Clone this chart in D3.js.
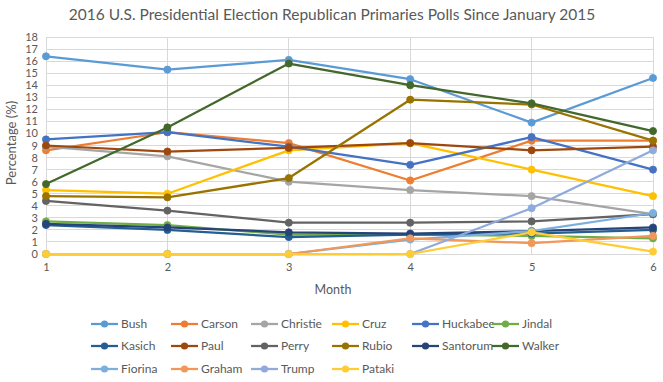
<!DOCTYPE html>
<html><head><meta charset="utf-8">
<script src="https://cdn.jsdelivr.net/npm/d3@7"></script>
<style>body{margin:0;background:#fff;} text{font-family:Lato,"Open Sans",sans-serif;fill:#595959;}</style>
</head><body>
<svg id="chart" width="663" height="382"></svg>
<script>
const months = [1, 2, 3, 4, 5, 6];
const yTicks = d3.range(0, 19);
const candidates = ["Bush","Carson","Christie","Cruz","Huckabee","Jindal","Kasich","Paul","Perry","Rubio","Santorum","Walker","Fiorina","Graham","Trump","Pataki"];
const colors = ["#5B9BD5","#ED7D31","#A5A5A5","#FFC000","#4472C4","#70AD47","#255E91","#9E480E","#636363","#997300","#264478","#43682B","#7CAFDD","#F1975A","#8FAADC","#FFCD33"];
const bush     = [16.4, 15.3, 16.1, 14.5, 10.9, 14.6];
const carson   = [8.6, 10.1, 9.2, 6.1, 9.4, 9.4];
const christie = [8.9, 8.1, 6.0, 5.3, 4.8, 3.3];
const cruz     = [5.3, 5.0, 8.6, 9.2, 7.0, 4.8];
const huckabee = [9.5, 10.1, 8.9, 7.4, 9.7, 7.0];
const jindal   = [2.7, 2.4, 1.6, 1.6, 1.5, 1.3];
const kasich   = [2.4, 2.0, 1.4, 1.6, 1.7, 2.0];
const paul     = [9.0, 8.5, 8.8, 9.2, 8.6, 8.9];
const perry    = [4.4, 3.6, 2.6, 2.6, 2.7, 3.3];
const rubio    = [4.8, 4.7, 6.3, 12.8, 12.4, 9.4];
const santorum = [2.5, 2.2, 1.8, 1.7, 1.9, 2.2];
const walker   = [5.8, 10.5, 15.8, 14.0, 12.5, 10.2];
const fiorina  = [0, 0, 0, 1.2, 1.9, 3.4];
const graham   = [0, 0, 0, 1.3, 0.9, 1.5];
const trump    = [0, 0, 0, 0, 3.8, 8.6];
const pataki   = [0, 0, 0, 0, 1.8, 0.2];
const seriesValues = [bush,carson,christie,cruz,huckabee,jindal,kasich,paul,perry,rubio,santorum,walker,fiorina,graham,trump,pataki];

const svg = d3.select("#chart");
const m = {left:46, right:10, top:37, bottom:128};
const W = 663, H = 382;
const x = d3.scaleLinear().domain([1,6]).range([m.left, W - m.right]);
const y = d3.scaleLinear().domain([0,18]).range([H - m.bottom, m.top]);

svg.append("text").attr("x", 332).attr("y", 20).attr("text-anchor","middle")
  .style("font-size","15.5px").text("2016 U.S. Presidential Election Republican Primaries Polls Since January 2015");

// gridlines
svg.append("g").selectAll("line").data(yTicks).join("line")
  .attr("x1", x(1)).attr("x2", x(6)).attr("y1", d=>y(d)).attr("y2", d=>y(d))
  .attr("stroke","#d9d9d9").attr("stroke-width",1).attr("shape-rendering","crispEdges");
svg.append("g").selectAll("line").data(months).join("line")
  .attr("x1", d=>x(d)).attr("x2", d=>x(d)).attr("y1", y(0)).attr("y2", y(18))
  .attr("stroke","#d9d9d9").attr("stroke-width",1).attr("shape-rendering","crispEdges");

// axes (labels only)
const yAxis = svg.append("g").attr("transform",`translate(${x(1)},0)`)
  .call(d3.axisLeft(y).tickValues(yTicks).tickSize(0).tickPadding(8));
yAxis.select(".domain").remove();
yAxis.selectAll("text").style("font-size","11px").style("fill","#595959").style("font-family","Lato,sans-serif");
const xAxis = svg.append("g").attr("transform",`translate(0,${y(0)})`)
  .call(d3.axisBottom(x).tickValues(months).tickFormat(d3.format("d")).tickSize(0).tickPadding(9));
xAxis.select(".domain").remove();
xAxis.selectAll("text").style("font-size","11px").style("fill","#595959").style("font-family","Lato,sans-serif");

svg.append("text").attr("x", 333).attr("y", 294).attr("text-anchor","middle").style("font-size","12.5px").text("Month");
svg.append("text").attr("transform","translate(16,143) rotate(-90)").attr("text-anchor","middle").style("font-size","13px").text("Percentage (%)");

const line = d3.line().x((d,i)=>x(months[i])).y(d=>y(d));
const g = svg.append("g");
seriesValues.forEach((vals, k) => {
  const sg = g.append("g");
  sg.append("path").datum(vals).attr("d", line).attr("fill","none")
    .attr("stroke", colors[k]).attr("stroke-width", 2.25).attr("stroke-linejoin","round");
  sg.selectAll("circle").data(vals).join("circle")
    .attr("cx",(d,i)=>x(months[i])).attr("cy", d=>y(d)).attr("r",3.6).attr("fill", colors[k]).attr("stroke",colors[k]).attr("stroke-width",0.75);
});

// legend
const colX = [91, 171, 251, 332, 412, 492];
const rowY = [324, 346, 369];
const lg = svg.append("g");
candidates.forEach((c,k) => {
  const cx = colX[k % 6], cy = rowY[Math.floor(k/6)];
  lg.append("line").attr("x1",cx).attr("x2",cx+27).attr("y1",cy).attr("y2",cy).attr("stroke",colors[k]).attr("stroke-width",2.25);
  lg.append("circle").attr("cx",cx+13.5).attr("cy",cy).attr("r",3.6).attr("fill",colors[k]);
  lg.append("text").attr("x",cx+30).attr("y",cy+4).style("font-size","12px").text(c);
});
</script>
</body></html>
